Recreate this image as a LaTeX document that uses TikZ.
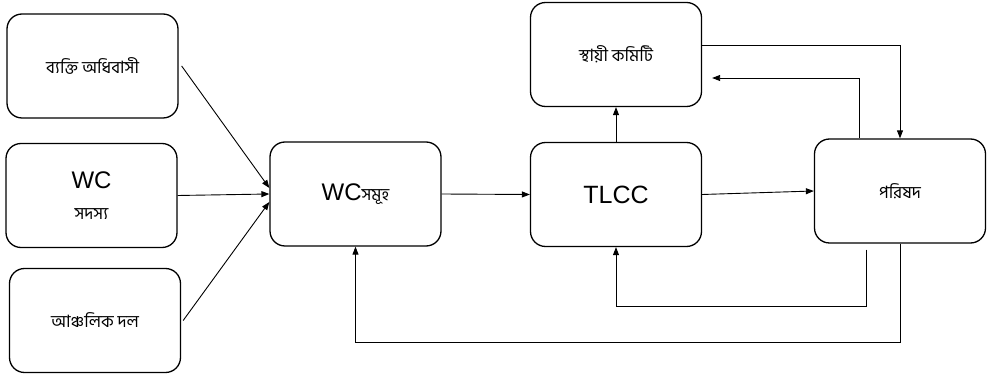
\documentclass[tikz,border=0pt]{standalone}
\usepackage{fontspec}
\setmainfont{Liberation Sans}
\newfontfamily\bnfont[Script=Bengali]{Hind Siliguri}
\usetikzlibrary{arrows.meta}
\begin{document}
\begin{tikzpicture}[x=1pt,y=-1pt,
  box/.style={draw, line width=1.3pt, rounded corners=15pt,
    minimum width=171pt, minimum height=104pt, align=center, inner sep=0pt},
  bn/.style={font=\bnfont\fontsize{17}{20}\selectfont},
  lat/.style={font=\fontsize{25}{28}\selectfont},
  link/.style={line width=0.9pt, -{Triangle[length=8pt,width=6pt]}}]
\useasboundingbox (0,0) rectangle (989,379);

% boxes
\node[box, bn] (b1) at (92.5,66) {ব্যক্তি অধিবাসী};
\node[box, font=\fontsize{17}{31}\selectfont] (b2) at (91.5,195.5)
  {{\fontsize{24}{31}\selectfont WC}\\{\bnfont\fontsize{17}{31}\selectfont সদস্য}};
\node[box, bn] (b3) at (95,320.5) {আঞ্চলিক দল};
\node[box] (wcs) at (355.5,194) {{\fontsize{24}{28}\selectfont WC}{\bnfont\fontsize{17}{20}\selectfont সমূহ}};
\node[box, bn] (stc) at (616,54.5) {স্থায়ী কমিটি};
\node[box, lat] (tlcc) at (616,194.5) {TLCC};
\node[box, bn] (par) at (900,191) {পরিষদ};

% inputs into the ward councils
\draw[link] ([xshift=3pt]b1.east) -- ([yshift=6pt]wcs.west);
\draw[link] (b2.east) -- (wcs.west);
\draw[link] ([xshift=2pt]b3.east) -- ([yshift=-8pt]wcs.west);

% main chain
\draw[link] (wcs.east) -- (tlcc.west);
\draw[link] (tlcc.north) -- (stc.south);
\draw[link] (tlcc.east) -- (par.west);

% committee <-> council
\draw[link] ([yshift=9.5pt]stc.east) -| (par.north);
\draw[link] ([xshift=-41pt]par.north) |- ([xshift=10pt,yshift=-23.5pt]stc.east);

% feedback loops from the council
\draw[link] ([xshift=-34pt,yshift=-6pt]par.south) -- ++(0,57) -| (tlcc.south);
\draw[link] (par.south) -- ++(0,99) -| (wcs.south);
\end{tikzpicture}
\end{document}
